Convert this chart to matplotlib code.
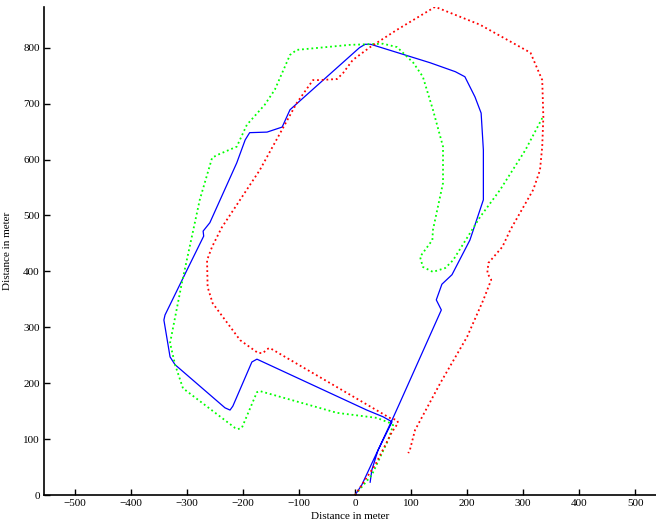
import numpy as np
import matplotlib
matplotlib.use("Agg")
import matplotlib.pyplot as plt

# Trajectories (meters)
blue_x = [0, 12, 66, 80, 154, 145, 155, 173, 205, 229, 229, 225, 214, 196, 179, 134, 28, 18, 8,
          -116, -130, -139, -157, -188, -196, -211, -259, -271, -270, -300, -339, -341, -330, -321,
          -232, -223, -218, -184, -175, 21, 50, 66, 41, 30, 27]
blue_y = [0, 18, 134, 165, 331, 349, 377, 394, 456, 528, 617, 683, 712, 748, 757, 773, 806, 806, 800,
          689, 658, 655, 649, 648, 635, 594, 487, 472, 463, 402, 322, 313, 247, 233,
          156, 152, 159, 238, 243, 152, 140, 131, 80, 45, 23]

green_x = [0, 30, 59, 68, 62, 39, -32, -170, -175, -202, -209, -214, -307, -321, -330, -309, -295,
           -277, -255, -246, -211, -193, -161, -143, -116, -104, -9, 50, 75, 104, 121, 139, 157, 157,
           139, 138, 116, 121, 139, 161, 175, 223, 259, 304, 334]
green_y = [0, 36, 98, 125, 129, 138, 147, 186, 184, 120, 118, 120, 191, 233, 272, 379, 444,
           528, 603, 608, 623, 662, 698, 725, 787, 796, 805, 807, 801, 773, 748, 689, 623, 558,
           474, 456, 426, 408, 399, 406, 420, 497, 546, 617, 674]

red_x = [0, 36, 66, 77, 75, 62, -152, -157, -164, -173, -205, -254, -263, -264, -255, -238, -170,
         -104, -75, -62, -32, -21, -4, 27, 75, 143, 223, 313, 334, 336, 334, 330, 318, 277, 263,
         238, 236, 243, 229, 200, 152, 107, 98, 95]
red_y = [0, 54, 113, 129, 134, 138, 263, 261, 254, 254, 277, 343, 372, 420, 444, 478, 581,
         701, 742, 742, 744, 755, 778, 801, 832, 873, 841, 791, 742, 676, 623, 581, 546, 474, 444,
         415, 397, 385, 349, 283, 200, 116, 81, 75]

plt.rcParams['font.family'] = ['Liberation Serif', 'DejaVu Serif']

fig = plt.figure(figsize=(6.56, 5.25), dpi=100)
ax = fig.add_axes([0.067, 0.057, 0.933, 0.93])

ax.plot(blue_x, blue_y, color="#0000ff", linewidth=0.9, linestyle="-")
ax.plot(green_x, green_y, color="#00ff00", linewidth=1.3, linestyle=(0, (1, 1.6)))
ax.plot(red_x, red_y, color="#ff0000", linewidth=1.3, linestyle=(0, (1, 1.6)))

ax.set_xlim(-555, 537)
ax.set_ylim(0, 873)
ax.set_xticks(np.arange(-500, 501, 100))
ax.set_yticks(np.arange(0, 801, 100))

ax.spines["top"].set_visible(False)
ax.spines["right"].set_visible(False)
ax.spines["left"].set_linewidth(1.2)
ax.spines["bottom"].set_linewidth(1.2)
ax.tick_params(direction="in", length=4, width=1, labelsize=8, pad=3)

ax.set_xlabel("Distance in meter", fontsize=8, labelpad=3)
ax.set_ylabel("Distance in meter", fontsize=8, labelpad=8)

plt.savefig("out.png", dpi=100)
